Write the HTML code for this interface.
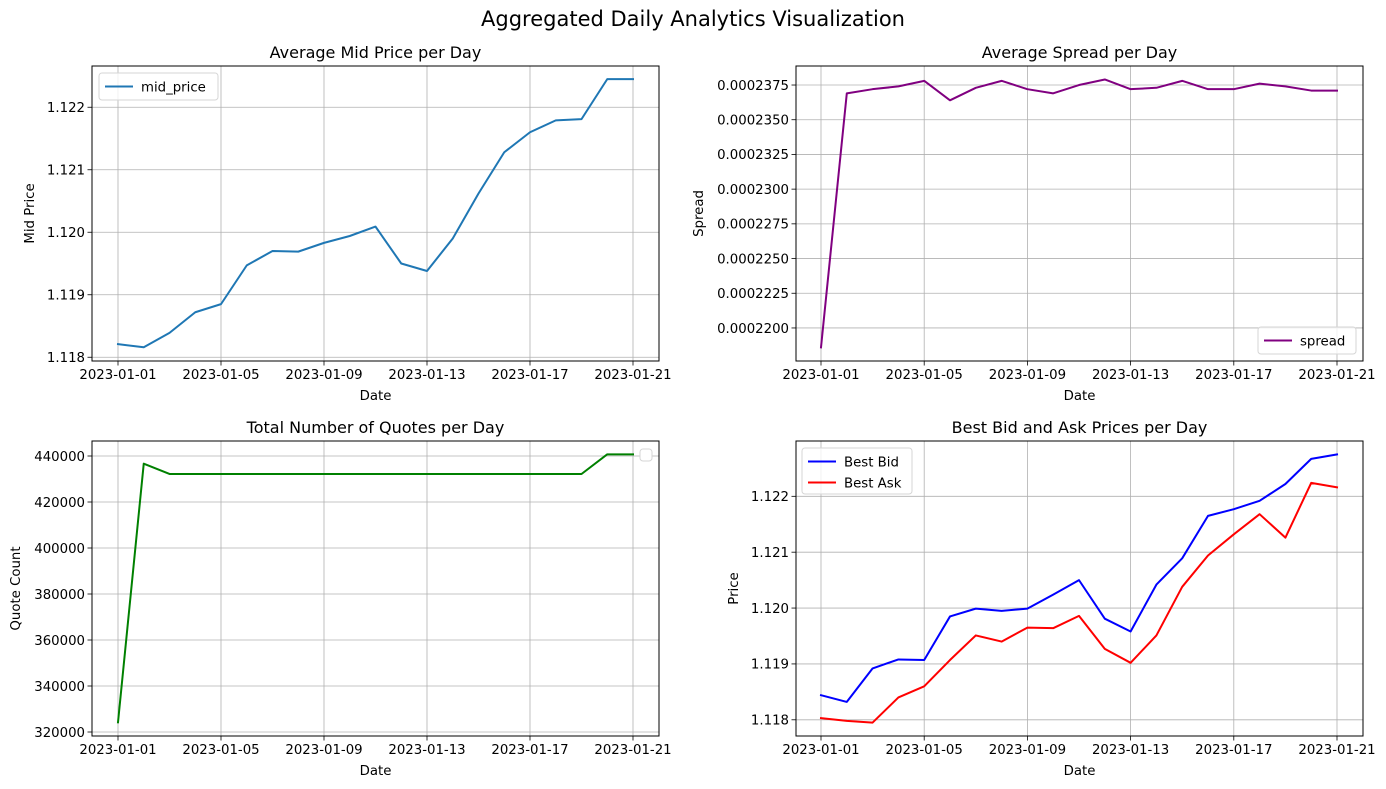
<!DOCTYPE html>
<html><head><meta charset="utf-8">
<style>
html,body{margin:0;padding:0;background:#fff;}
svg{display:block;font-family:"DejaVu Sans","Liberation Sans",sans-serif;}
</style></head>
<body>
<svg id="fig" width="1386" height="789" viewBox="0 0 1386 789" xmlns="http://www.w3.org/2000/svg">
<text x="693" y="26" font-size="21" text-anchor="middle" fill="#000">Aggregated Daily Analytics Visualization</text>
</svg>
<script>
const dayLabels = ["2023-01-01","2023-01-05","2023-01-09","2023-01-13","2023-01-17","2023-01-21"];
const dayTickIdx = [0,4,8,12,16,20];
const midPrice = [1.11821,1.11816,1.11839,1.11872,1.11885,1.11947,1.11970,1.11969,1.11983,1.11994,1.12009,1.11950,1.11938,1.11990,1.12062,1.12128,1.12160,1.12179,1.12181,1.12245,1.12245];
const midTicks = [1.118,1.119,1.120,1.121,1.122];
const spread = [0.0002186,0.0002369,0.0002372,0.0002374,0.0002378,0.0002364,0.0002373,0.0002378,0.0002372,0.0002369,0.0002375,0.0002379,0.0002372,0.0002373,0.0002378,0.0002372,0.0002372,0.0002376,0.0002374,0.0002371,0.0002371];
const spreadTicks = [0.00022,0.000222500,0.000225,0.0002275,0.00023,0.0002325,0.000235,0.0002375];
const spreadTickLabels = ["0.0002200","0.0002225","0.0002250","0.0002275","0.0002300","0.0002325","0.0002350","0.0002375"];
const quotes = [324200,436670,432180,432180,432180,432180,432180,432180,432180,432180,432180,432180,432180,432180,432180,432180,432180,432180,432180,440720,440720];
const quoteTicks = [320000,340000,360000,380000,400000,420000,440000];
const bestBid = [1.11844,1.11832,1.11892,1.11908,1.11907,1.11985,1.11999,1.11995,1.11999,1.12024,1.12050,1.11981,1.11958,1.12042,1.12089,1.12165,1.12177,1.12192,1.12222,1.12267,1.12275];
const bestAsk = [1.11803,1.11798,1.11795,1.11840,1.11860,1.11907,1.11951,1.11940,1.11965,1.11964,1.11986,1.11927,1.11902,1.11951,1.12038,1.12094,1.12132,1.12168,1.12126,1.12224,1.12216];
const priceTicks = [1.118,1.119,1.120,1.121,1.122];

const NS="http://www.w3.org/2000/svg";
const fig=document.getElementById('fig');
function mk(tag,attrs,parent){const e=document.createElementNS(NS,tag);for(const k in attrs)e.setAttribute(k,attrs[k]);(parent||fig).appendChild(e);return e;}

function panel(o){
  const g=mk('g',{});
  
  
  const sx=i=>o.x0+(i-0)*(o.x1-o.x0)/20;
  const sy=v=>o.bottom-(v-o.ymin)/(o.ymax-o.ymin)*(o.bottom-o.top);
  // grid
  dayTickIdx.forEach((d,k)=>{
    const x=sx(d);
    const l=mk('line',{x1:x,x2:x,y1:o.top,y2:o.bottom,stroke:'#b0b0b0','stroke-width':0.8},g);
    
    
    mk('line',{x1:x,x2:x,y1:o.bottom,y2:o.bottom+4.5,stroke:'#000','stroke-width':0.8},g);
    const t=mk('text',{x:x,y:o.bottom+18,'font-size':13.3,'text-anchor':'middle'},g);
    t.textContent=dayLabels[k];
    
    
  });
  o.ticks.forEach((v,k)=>{
    const y=sy(v);
    const l=mk('line',{x1:o.left,x2:o.right,y1:y,y2:y,stroke:'#b0b0b0','stroke-width':0.8},g);
    
    
    mk('line',{x1:o.left-4.5,x2:o.left,y1:y,y2:y,stroke:'#000','stroke-width':0.8},g);
    const t=mk('text',{x:o.left-7,y:y+4.8,'font-size':13.3,'text-anchor':'end'},g);
    t.textContent=o.labels?o.labels[k]:o.fmt(v);
    
    
  });
  o.series.forEach(s=>{
    const pts=s.data.map((v,i)=>sx(i).toFixed(2)+','+sy(v).toFixed(2)).join(' ');
    const p=mk('polyline',{points:pts,fill:'none',stroke:s.color,'stroke-width':2,'stroke-linejoin':'round','stroke-linecap':'square'},g);
    
    
  });
  const fr=mk('rect',{x:o.left,y:o.top,width:o.right-o.left,height:o.bottom-o.top,fill:'none',stroke:'#000','stroke-width':1},g);
  
  
  const tt=mk('text',{x:(o.left+o.right)/2,y:o.top-8,'font-size':16,'text-anchor':'middle'},g);
  tt.textContent=o.title;
  
  
  const xl=mk('text',{x:(o.left+o.right)/2,y:o.bottom+39,'font-size':13.3,'text-anchor':'middle'},g);
  xl.textContent='Date';
  
  
  const cy=(o.top+o.bottom)/2;
  const yl=mk('text',{x:o.ylx,y:cy,'font-size':13.3,'text-anchor':'middle',transform:`rotate(-90 ${o.ylx} ${cy})`},g);
  yl.textContent=o.ylabel;
  
  
  if(o.legend){
    const L=o.legend;
    const lg=mk('g',{},g);
    
    
    mk('rect',{x:L.x,y:L.y,width:L.w,height:L.h,rx:3,fill:'#fff','fill-opacity':0.8,stroke:'#d6d6d6','stroke-width':1},lg);
    L.items.forEach((it,k)=>{
      const yy=L.y+13.5+k*21;
      mk('line',{x1:L.x+6,x2:L.x+34,y1:yy,y2:yy,stroke:it.color,'stroke-width':2},lg);
      const t=mk('text',{x:L.x+42,y:yy+4.8,'font-size':13.3},lg);
      t.textContent=it.label;
      
      
    });
  }
}

panel({name:'mid-price-chart',left:92,right:659,top:66,bottom:361,x0:118,x1:633,ymin:1.11794,ymax:1.12266,ticks:midTicks,fmt:v=>v.toFixed(3),
  series:[{name:'mid-price-line',data:midPrice,color:'#1f77b4'}],title:'Average Mid Price per Day',ylabel:'Mid Price',ylx:34,
  legend:{x:99,y:73,w:119,h:27,items:[{label:'mid_price',color:'#1f77b4'}]}});
panel({name:'spread-chart',left:796,right:1363,top:66,bottom:361,x0:821,x1:1337,ymin:0.00021762,ymax:0.00023887,ticks:spreadTicks,labels:spreadTickLabels,
  series:[{name:'spread-line',data:spread,color:'#800080'}],title:'Average Spread per Day',ylabel:'Spread',ylx:703,
  legend:{x:1258,y:327,w:98,h:27,items:[{label:'spread',color:'#800080'}]}});
panel({name:'quotes-chart',left:92,right:659,top:441,bottom:736,x0:118,x1:633,ymin:318261,ymax:446522,ticks:quoteTicks,fmt:v=>String(v),
  series:[{name:'quote-count-line',data:quotes,color:'#008000'}],title:'Total Number of Quotes per Day',ylabel:'Quote Count',ylx:20});
panel({name:'bid-ask-chart',left:796,right:1363,top:441,bottom:736,x0:821,x1:1337,ymin:1.11771,ymax:1.12299,ticks:priceTicks,fmt:v=>v.toFixed(3),
  series:[{name:'best-bid-line',data:bestBid,color:'#0000ff'},{name:'best-ask-line',data:bestAsk,color:'#ff0000'}],title:'Best Bid and Ask Prices per Day',ylabel:'Price',ylx:738,
  legend:{x:802,y:448,w:110,h:46,items:[{label:'Best Bid',color:'#0000ff'},{label:'Best Ask',color:'#ff0000'}]}});
const el=mk('rect',{x:640,y:449,width:12,height:12,rx:3,fill:'#fff',stroke:'#d6d6d6','stroke-width':1});


</script>
</body></html>
